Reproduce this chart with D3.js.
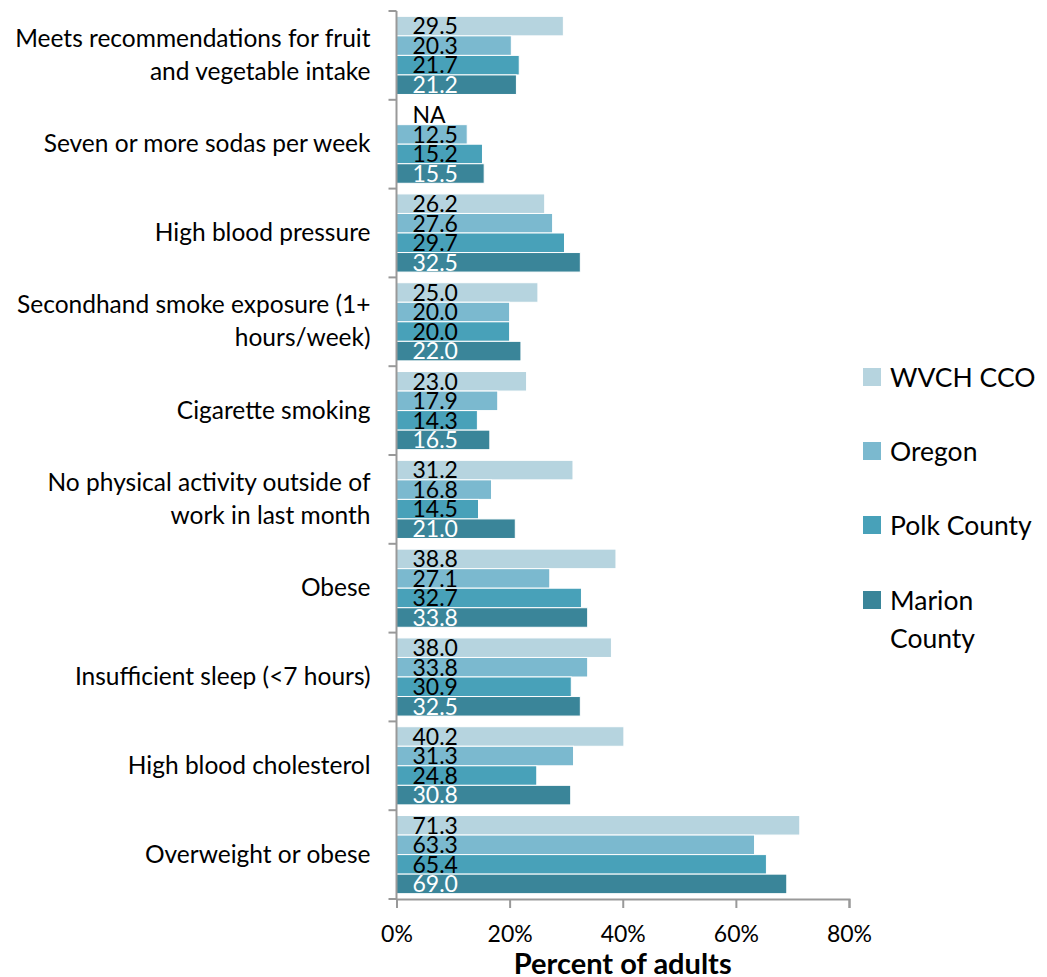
<!DOCTYPE html>
<html>
<head>
<meta charset="utf-8">
<script src="https://cdn.jsdelivr.net/npm/d3@7"></script>
<style>
  body { margin: 0; background: #fff; }
  svg { font-family: Lato, "Open Sans", sans-serif; }
</style>
</head>
<body>
<div id="chart"></div>
<script>
const categories = [
    ["Meets recommendations for fruit", "and vegetable intake"],
    ["Seven or more sodas per week"],
    ["High blood pressure"],
    ["Secondhand smoke exposure (1+", "hours/week)"],
    ["Cigarette smoking"],
    ["No physical activity outside of", "work in last month"],
    ["Obese"],
    ["Insufficient sleep (<7 hours)"],
    ["High blood cholesterol"],
    ["Overweight or obese"]
]
const seriesNames = ["WVCH CCO", "Oregon", "Polk County", "Marion County"]
const wvch = [29.5, null, 26.2, 25.0, 23.0, 31.2, 38.8, 38.0, 40.2, 71.3]
const oregon = [20.3, 12.5, 27.6, 20.0, 17.9, 16.8, 27.1, 33.8, 31.3, 63.3]
const polk = [21.7, 15.2, 29.7, 20.0, 14.3, 14.5, 32.7, 30.9, 24.8, 65.4]
const marion = [21.2, 15.5, 32.5, 22.0, 16.5, 21.0, 33.8, 32.5, 30.8, 69.0]
const xTicks = [0, 20, 40, 60, 80]

const colors = ["#b6d4df", "#7bb9cf", "#48a1b9", "#3a8599"]
const labelColors = ["#000", "#000", "#000", "#fff"]
const allSeries = [wvch, oregon, polk, marion]

const W = 1047, H = 977
const margin = { top: 11, left: 396.5 }
const width = 452.5, height = 888

const svg = d3.select("#chart").append("svg")
    .attr("width", W).attr("height", H)
const g = svg.append("g").attr("transform", `translate(${margin.left},${margin.top})`)

const x = d3.scaleLinear().domain([0, 80]).range([0, width])
const y = d3.scaleBand().domain(d3.range(categories.length)).range([0, height]).paddingInner(0.12).paddingOuter(0.06)
const ySub = d3.scaleBand().domain(d3.range(4)).range([0, y.bandwidth()])

/* bars */
categories.forEach((c, i) => {
    const grp = g.append("g").attr("transform", `translate(0,${y(i)})`)
    allSeries.forEach((s, j) => {
        const v = s[i]
        if (v === null) return
        grp.append("rect")
            .attr("x", 0)
            .attr("y", ySub(j))
            .attr("width", x(v))
            .attr("height", ySub.bandwidth())
            .attr("fill", colors[j])
            .attr("stroke", "#fff")
            .attr("stroke-width", 1)
    })
})

/* value labels on top of bars */
categories.forEach((c, i) => {
    allSeries.forEach((s, j) => {
        const v = s[i]
        g.append("text")
            .attr("x", 16)
            .attr("y", y(i) + ySub(j) + ySub.bandwidth() - 1.5)
            .attr("fill", labelColors[j])
            .style("font-size", "23px")
            .text(v === null ? "NA" : v.toFixed(1))
    })
})

/* y axis */
const step = height / categories.length
g.append("line").attr("x1", 0).attr("x2", 0).attr("y1", 0).attr("y2", height)
    .attr("stroke", "#999").attr("stroke-width", 2)
d3.range(categories.length + 1).forEach(k => {
    g.append("line").attr("x1", -8).attr("x2", 0)
        .attr("y1", k * step).attr("y2", k * step)
        .attr("stroke", "#999").attr("stroke-width", 2)
})
categories.forEach((c, i) => {
    const cy = i * step + step / 2
    const t = g.append("text")
        .attr("text-anchor", "end")
        .style("font-size", "24.5px")
        .attr("fill", "#000")
    c.forEach((line, k) => {
        t.append("tspan").attr("x", -26)
            .attr("y", cy + 8 + (k - (c.length - 1) / 2) * 33)
            .text(line)
    })
})

/* x axis */
const xAxis = g.append("g").attr("transform", `translate(0,${height})`)
    .call(d3.axisBottom(x).tickValues(xTicks).tickSize(9).tickFormat(d => d + "%"))
xAxis.select(".domain").attr("stroke", "#999").attr("stroke-width", 2)
xAxis.selectAll(".tick line").attr("stroke", "#999").attr("stroke-width", 2)
xAxis.selectAll(".tick text").style("font-size", "23px").attr("fill", "#000")
    .attr("font-family", "Lato, 'Open Sans', sans-serif").attr("y", 27)

g.append("text")
    .attr("x", width / 2)
    .attr("y", height + 75)
    .attr("text-anchor", "middle")
    .style("font-size", "29px")
    .style("font-weight", "bold")
    .text("Percent of adults")

/* legend */
const legendY = [377, 451, 525, 600]
seriesNames.forEach((n, j) => {
    svg.append("rect").attr("x", 863).attr("y", legendY[j] - 9)
        .attr("width", 18).attr("height", 18).attr("fill", colors[j])
    const t = svg.append("text").attr("x", 890).style("font-size", "26.5px").attr("fill", "#000")
    if (n === "Marion County") {
        t.append("tspan").attr("x", 890).attr("y", legendY[j] + 10).text("Marion")
        t.append("tspan").attr("x", 890).attr("y", legendY[j] + 48).text("County")
    } else {
        t.attr("y", legendY[j] + 10).text(n)
    }
})
</script>
</body>
</html>
